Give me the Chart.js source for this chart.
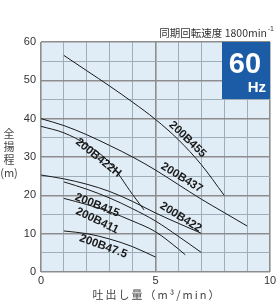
<!DOCTYPE html>
<html><head><meta charset="utf-8">
<script src="https://cdn.jsdelivr.net/npm/chart.js@4/dist/chart.umd.min.js"></script>
<style>html,body{margin:0;padding:0;background:#fff;}#c{display:block;}</style>
</head><body>
<canvas id="c" width="280" height="301"></canvas>
<script>
// Data (flow m3/min, head m)
const q455 = [1, 2, 3, 4, 5, 6, 7, 8];
const h455 = [56.5, 52.5, 48.5, 44.3, 39.8, 34.5, 28, 20];
const q437 = [0, 1, 2, 3, 4, 5, 6, 7, 8, 9];
const h437 = [40, 38.2, 35.8, 33, 30, 26.6, 22.8, 19, 15.5, 12];
const q422H = [0, 1, 2, 3, 4, 4.5];
const h422H = [38, 36.3, 33.2, 28.5, 20.2, 16.2];
const q422 = [0, 1, 2, 3, 4, 5, 6, 7];
const h422 = [25.3, 24.3, 22.9, 21.0, 18.4, 15.4, 12.7, 10.1];
const q415 = [1, 2, 3, 4, 5, 6, 7];
const h415 = [23.5, 21.6, 19.3, 16.5, 13.3, 9.3, 5.1];
const q411 = [1, 2, 3, 4, 5, 6, 6.3];
const h411 = [19.2, 17.6, 15.7, 13.3, 10.5, 6.0, 4.5];
const q475 = [1, 2, 3, 4, 5];
const h475 = [10.7, 10.0, 8.6, 6.6, 3.9];
const xTicks = [0, 5, 10];
const yTicks = [0, 10, 20, 30, 40, 50, 60];
const seriesNames = ['200B455', '200B437', '200B422H', '200B422', '200B415', '200B411', '200B47.5'];

const series = [[q455,h455],[q437,h437],[q422H,h422H],[q422,h422],[q415,h415],[q411,h411],[q475,h475]];
const datasets = series.map((s, i) => ({
  label: seriesNames[i],
  data: s[0].map((x, j) => ({x: x, y: s[1][j]})),
  borderColor: '#1a1a1a', borderWidth: 1, pointRadius: 0, fill: false,
  tension: 0.4, cubicInterpolationMode: 'monotone'
}));

// label placement [x, y (data), angle deg]
const labelPos = [
  [6.4, 34.6, 44], [6.15, 24.6, 32], [2.5, 29.8, 39], [6.1, 14.3, 32],
  [2.45, 17.4, 22], [2.45, 13.4, 26], [2.72, 6.7, 20]
];

const decor = {
  id: 'decor',
  beforeDraw(chart) {
    const {ctx, chartArea: a} = chart;
    ctx.save();
    ctx.fillStyle = '#e1edf6';
    ctx.fillRect(a.left, a.top, a.right - a.left, a.bottom - a.top);
    ctx.restore();
  },
  afterDraw(chart) {
    const {ctx, chartArea: a, scales} = chart;
    ctx.save();
    // 60Hz box
    ctx.fillStyle = '#1c5ba6';
    ctx.fillRect(222, a.top, a.right - 222, 57);
    ctx.fillStyle = '#fff';
    ctx.textBaseline = 'alphabetic';
    ctx.textAlign = 'center';
    ctx.font = 'bold 29px "Liberation Sans", Arial, sans-serif';
    ctx.fillText('60', 245, 73);
    ctx.textAlign = 'right';
    ctx.font = 'bold 15px "Liberation Sans", Arial, sans-serif';
    ctx.fillText('Hz', 266, 92);
    // top note
    ctx.fillStyle = '#333';
    ctx.textAlign = 'right';
    ctx.textBaseline = 'middle';
    ctx.font = '7px "Liberation Sans", Arial, sans-serif';
    ctx.fillText('-1', 274, 29);
    ctx.font = '10.5px "Noto Sans CJK JP", sans-serif';
    ctx.fillText('同期回転速度 1800min', 267, 33);
    // curve labels
    ctx.fillStyle = '#1a1a1a';
    ctx.font = 'bold 11.5px "Liberation Sans", Arial, sans-serif';
    ctx.textAlign = 'center';
    ctx.textBaseline = 'middle';
    labelPos.forEach((p, i) => {
      const px = scales.x.getPixelForValue(p[0]);
      const py = scales.y.getPixelForValue(p[1]);
      ctx.save();
      ctx.translate(px, py);
      ctx.rotate(p[2] * Math.PI / 180);
      ctx.fillText(seriesNames[i], 0, 0);
      ctx.restore();
    });
    // axis titles
    ctx.fillStyle = '#444';
    ctx.font = '11px "Noto Sans CJK JP", sans-serif';
    ctx.textAlign = 'center';
    ctx.letterSpacing = '2px';
    ctx.fillText('吐出し量（m³/min）', 157, 295);
    ctx.letterSpacing = '0px';
    const yt = ['全', '揚', '程', '(m)'];
    const yy = [134, 147, 160, 173];
    yt.forEach((t, i) => ctx.fillText(t, 9, yy[i]));
    ctx.restore();
  }
};

new Chart(document.getElementById('c'), {
  type: 'line',
  data: { datasets },
  options: {
    responsive: false, animation: false, events: [],
    layout: { padding: { top: 42, right: 10, left: 0, bottom: 0 } },
    plugins: { legend: { display: false }, tooltip: { enabled: false } },
    scales: {
      x: {
        type: 'linear', min: 0, max: 10,
        afterFit(s) { s.height = 29; },
        ticks: { stepSize: 1, autoSkip: false, maxRotation: 0, padding: 2,
          color: '#333', font: { family: '"Liberation Sans", Arial, sans-serif', size: 11 },
          callback: v => xTicks.includes(v) ? String(v) : '' },
        grid: { drawTicks: false,
          color: c => (c.tick && c.tick.value % 5 === 0) ? '#8d8d8d' : '#9fadb9',
          lineWidth: c => (c.tick && c.tick.value % 5 === 0) ? 1.6 : 1 },
        border: { display: false }
      },
      y: {
        type: 'linear', min: 0, max: 60,
        afterFit(s) { s.width = 41; },
        ticks: { stepSize: 5, autoSkip: false, padding: 5,
          color: '#333', font: { family: '"Liberation Sans", Arial, sans-serif', size: 11 },
          callback: v => yTicks.includes(v) ? String(v) : '' },
        grid: { drawTicks: false,
          color: c => (c.tick && c.tick.value % 10 === 0) ? '#8d8d8d' : '#9fadb9',
          lineWidth: c => (c.tick && c.tick.value % 10 === 0) ? 1.6 : 1 },
        border: { display: false }
      }
    }
  },
  plugins: [decor]
});
</script>
</body></html>
